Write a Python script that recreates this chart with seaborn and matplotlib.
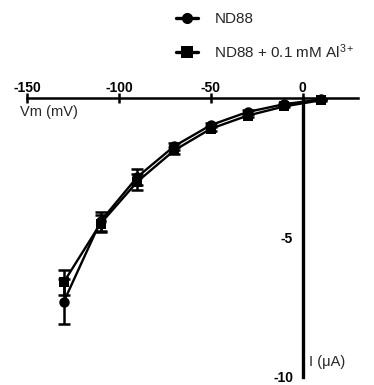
import matplotlib
matplotlib.use("Agg")
import matplotlib.pyplot as plt
import seaborn as sns
import pandas as pd
import numpy as np

# Current-voltage relationship, control vs. aluminium-treated oocytes
voltage = [-130, -110, -90, -70, -50, -30, -10, 10]
current_nd88 = [-7.3, -4.42, -2.83, -1.73, -0.97, -0.50, -0.22, -0.05]
sem_nd88 = [0.80, 0.33, 0.30, 0.12, 0.08, 0.06, 0.04, 0.03]
current_al = [-6.6, -4.50, -3.00, -1.88, -1.10, -0.63, -0.30, -0.08]
sem_al = [0.45, 0.30, 0.28, 0.12, 0.08, 0.06, 0.04, 0.03]
series_names = ["ND88", r"ND88 + 0.1 mM Al$^{3+}$"]
x_ticks = [-150, -100, -50, 0]
y_ticks = [-5, -10]

sns.set_theme(style="white")
plt.rcParams["font.family"] = ["Liberation Sans", "DejaVu Sans"]
plt.rcParams["mathtext.fontset"] = "custom"
plt.rcParams["mathtext.rm"] = "Liberation Sans"
plt.rcParams["mathtext.it"] = "Liberation Sans"
plt.rcParams["axes.unicode_minus"] = False

df = pd.DataFrame({
    "V": voltage * 2,
    "I": current_nd88 + current_al,
    "sem": sem_nd88 + sem_al,
    "group": [series_names[0]] * len(voltage) + [series_names[1]] * len(voltage),
})

W, H = 374, 385
fig = plt.figure(figsize=(W / 100, H / 100), dpi=100)
ax = fig.add_axes([27 / W, 1 - 377 / H, 331 / W, 279 / H])

sns.lineplot(data=df, x="V", y="I", style="group", markers={series_names[0]: "o", series_names[1]: "s"},
             dashes=False, color="black", linewidth=1.7, markersize=7.5, markeredgewidth=0,
             ax=ax, legend=True, clip_on=False, zorder=3)
for name, vals, errs in [(series_names[0], current_nd88, sem_nd88), (series_names[1], current_al, sem_al)]:
    ax.errorbar(voltage, vals, yerr=errs, fmt="none", ecolor="black", elinewidth=1.8,
                capsize=4.5, capthick=1.8, clip_on=False, zorder=2)

ax.set_xlim(-150, 30)
ax.set_ylim(-10, 0)

# axes crossing at the origin
for s in ["right", "bottom"]:
    ax.spines[s].set_visible(False)
ax.spines["top"].set_position(("data", 0))
ax.spines["left"].set_position(("data", 0))
ax.spines["top"].set_linewidth(1.8)
ax.spines["left"].set_linewidth(2.4)
ax.spines["top"].set_color("black")
ax.spines["left"].set_color("black")
ax.xaxis.set_ticks_position("top")
ax.xaxis.set_label_position("top")
ax.set_xticks(x_ticks)
ax.set_xticklabels([str(v) for v in x_ticks])
ax.set_yticks(y_ticks)
ax.set_yticklabels([str(v) for v in y_ticks])
ax.tick_params(axis="x", direction="inout", length=7, width=1.8, colors="black", pad=-1,
               labelsize=10)
ax.tick_params(axis="y", direction="out", length=5, width=1.8, colors="black", pad=2,
               labelsize=10)
for lab in ax.get_xticklabels() + ax.get_yticklabels():
    lab.set_fontweight("bold")
ax.set_xlabel("")
ax.set_ylabel("")

fig.text(20 / W, 1 - 112 / H, "Vm (mV)", fontsize=10.5, va="center", ha="left")
fig.text(309 / W, 1 - 362 / H, "I (μA)", fontsize=10.5, va="center", ha="left")

handles, labels = ax.get_legend_handles_labels()
for h in handles:
    h.set_linewidth(2.4)
    h.set_markersize(8)
ax.legend(handles, labels, loc="upper left", bbox_to_anchor=(170 / W, 1 - 6 / H),
          bbox_transform=fig.transFigure, frameon=False, fontsize=11, handlelength=1.4,
          handletextpad=1.1, labelspacing=1.05, borderaxespad=0)

fig.savefig("out.png", dpi=100)
